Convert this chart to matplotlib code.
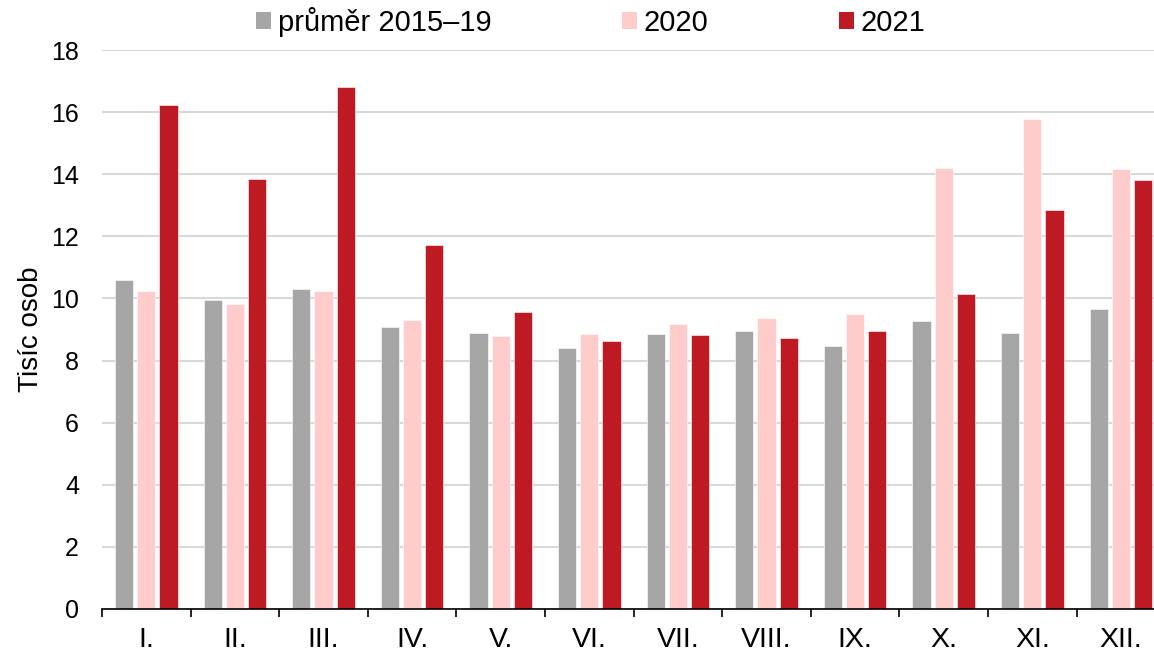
import matplotlib
matplotlib.use("Agg")
import matplotlib.pyplot as plt
from matplotlib.patches import Patch
import numpy as np

plt.rcParams['font.family'] = ['Liberation Sans', 'DejaVu Sans']

months = ["I.", "II.", "III.", "IV.", "V.", "VI.", "VII.", "VIII.", "IX.", "X.", "XI.", "XII."]
avg_2015_19 = [10.59, 9.95, 10.30, 9.08, 8.89, 8.40, 8.85, 8.95, 8.47, 9.27, 8.90, 9.65]
y2020 = [10.24, 9.82, 10.24, 9.30, 8.79, 8.85, 9.18, 9.37, 9.50, 14.21, 15.78, 14.17]
y2021 = [16.23, 13.84, 16.81, 11.72, 9.56, 8.63, 8.82, 8.72, 8.95, 10.13, 12.84, 13.83]
series_labels = ["průměr 2015–19", "2020", "2021"]
colors = ["#a6a6a6", "#ffcccc", "#be1a23"]
yticks = [0, 2, 4, 6, 8, 10, 12, 14, 16, 18]

fig = plt.figure(figsize=(11.54, 6.51), dpi=100)
W, H = 1154, 651
left = 102 / W
right = (102 + 12 * 88.6) / W
bottom = (H - 609) / H
top = (H - 50) / H
ax = fig.add_axes([left, bottom, right - left, top - bottom])
ax_w_px = 12 * 88.6

x = np.arange(len(months))
bw = 0.205
step = 0.25
for i, (vals, c, lab) in enumerate(zip([avg_2015_19, y2020, y2021], colors, series_labels)):
    ax.bar(x + (i - 1) * step, vals, width=bw, color=c, label=lab, zorder=3,
           edgecolor='white', linewidth=0.4)

ax.set_xlim(-0.5, len(months) - 0.5)
ax.set_ylim(0, 18)
ax.set_yticks(yticks)
ax.set_yticklabels([str(t) for t in yticks], fontsize=18)
ax.yaxis.grid(True, color="#d9d9d9", linewidth=1.5, zorder=0)
ax.set_axisbelow(True)
ax.tick_params(axis='y', length=0, pad=16.5)

ax.set_xticks(np.arange(-0.5, len(months), 1.0), minor=False)
ax.set_xticklabels([])
ax.set_xticks(x, minor=True)
ax.set_xticklabels(months, minor=True, fontsize=20.5)
ax.tick_params(axis='x', which='major', length=6, width=1.2, color='black', direction='out')
ax.tick_params(axis='x', which='minor', length=0, pad=13)

for s in ['left', 'right', 'top']:
    ax.spines[s].set_visible(False)
ax.spines['bottom'].set_color('black')
ax.spines['bottom'].set_linewidth(1.2)
ax.spines['bottom'].set_zorder(4)

ax.set_ylabel("Tisíc osob", fontsize=20)
ax.yaxis.set_label_coords((44 - 102) / ax_w_px, 0.5)

handles = [Patch(facecolor=c, edgecolor='none') for c in colors]
fig.legend(handles, series_labels, loc='center', bbox_to_anchor=(0.512, 0.966),
           ncol=3, frameon=False, fontsize=21, handlelength=0.52, handleheight=0.52,
           handletextpad=0.24, columnspacing=4.45, borderpad=0, borderaxespad=0)

fig.savefig("out.png", dpi=100)
